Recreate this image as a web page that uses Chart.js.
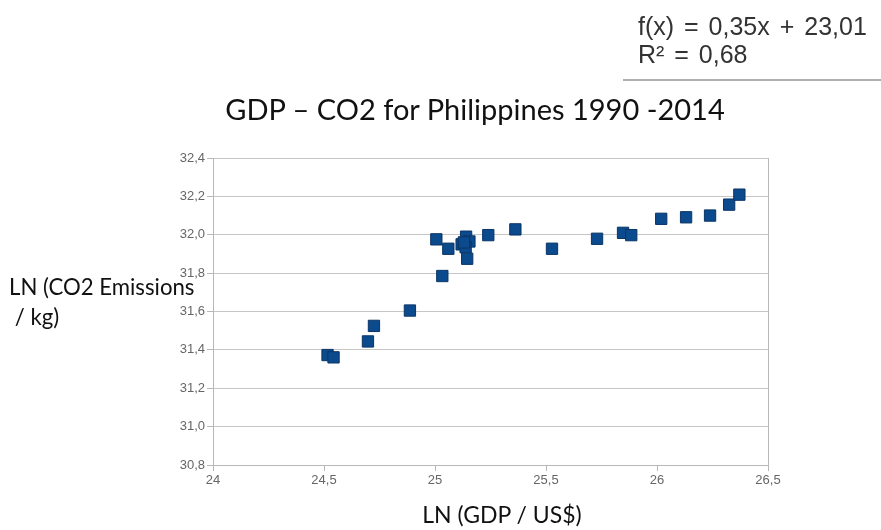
<!DOCTYPE html>
<html>
<head>
<meta charset="utf-8">
<script src="https://cdn.jsdelivr.net/npm/chart.js@4/dist/chart.umd.min.js"></script>
<style>
  html, body { margin:0; padding:0; background:#fff; }
  #wrap { position:relative; width:881px; height:530px; overflow:hidden; }
  #c { position:absolute; left:0; top:0; }
  .t { position:absolute; white-space:pre; }
  #title { left:0; width:950px; top:92px; text-align:center; font-family:Lato, sans-serif; font-size:29px; line-height:34px; color:#111; }
  #ytitle { left:9px; top:272px; font-family:Lato, sans-serif; font-size:22.2px; line-height:30px; color:#111; }
  #xtitle { left:0; width:1004px; top:500px; text-align:center; font-family:Lato, sans-serif; font-size:23px; line-height:28px; color:#111; }
  #formula { left:638px; top:12px; font-family:"Liberation Sans", Arial, sans-serif; font-size:25px; line-height:28px; color:#333; word-spacing:3px; }
  #rule { position:absolute; left:623px; top:79px; width:258px; height:2px; background:#b0b0b0; }
</style>
</head>
<body>
<div id="wrap">
  <canvas id="c" width="881" height="530"></canvas>
  <div class="t" id="formula">f(x) = 0,35x + 23,01
R² = 0,68</div>
  <div id="rule"></div>
  <div class="t" id="title">GDP – CO2 for Philippines 1990 -2014</div>
  <div class="t" id="ytitle">LN (CO2 Emissions
 / kg)</div>
  <div class="t" id="xtitle">LN (GDP / US$)</div>
</div>
<script>
// LN(GDP / US$) for each year
const lnGDP = [24.516, 24.543, 24.698, 24.725, 24.887, 25.006, 25.033, 25.060,
               25.120, 25.140, 25.155, 25.138, 25.130, 25.145, 25.240, 25.362,
               25.527, 25.730, 25.847, 25.884, 26.019, 26.131, 26.239, 26.325, 26.371];
// LN(CO2 emissions / kg)
const lnCO2 = [31.373, 31.361, 31.444, 31.525, 31.605, 31.976, 31.785, 31.927,
               31.950, 31.990, 31.965, 31.935, 31.960, 31.875, 31.998, 32.028,
               31.927, 31.979, 32.010, 31.998, 32.083, 32.091, 32.100, 32.157, 32.209];
const xTicks = ['24', '24,5', '25', '25,5', '26', '26,5'];
const yTicks = ['30,8', '31,0', '31,2', '31,4', '31,6', '31,8', '32,0', '32,2', '32,4'];
const xMin = 24, xMax = 26.5, xStep = 0.5;
const yMin = 30.8, yMax = 32.4, yStep = 0.2;

const points = lnGDP.map((x, i) => ({ x: x, y: lnCO2[i] }));
const GRID = '#c6c6c6';
const AXIS = '#b8b8b8';
const tickFont = { family: '"Liberation Sans", Arial, sans-serif', size: 13 };

new Chart(document.getElementById('c'), {
  type: 'scatter',
  data: {
    datasets: [{
      data: points,
      pointStyle: 'rect',
      pointRadius: 8,
      pointHoverRadius: 8,
      backgroundColor: '#0b4a8c',
      borderColor: '#0a3566',
      borderWidth: 1
    }]
  },
  options: {
    responsive: false,
    animation: false,
    events: [],
    layout: { padding: { top: 158, right: 113, left: 0, bottom: 0 } },
    plugins: { legend: { display: false }, tooltip: { enabled: false }, title: { display: false } },
    scales: {
      x: {
        type: 'linear',
        min: xMin, max: xMax,
        ticks: {
          stepSize: xStep,
          color: '#666',
          font: tickFont,
          padding: 2,
          maxRotation: 0,
          callback: (v) => xTicks[Math.round((v - xMin) / xStep)]
        },
        grid: {
          drawOnChartArea: true,
          color: (ctx) => (ctx.tick && Math.abs(ctx.tick.value - xMax) < 1e-9) ? AXIS : 'rgba(0,0,0,0)',
          tickColor: AXIS,
          tickLength: 6
        },
        border: { color: AXIS },
        afterFit: (s) => { s.height = 65; }
      },
      y: {
        type: 'linear',
        min: yMin, max: yMax,
        ticks: {
          stepSize: yStep,
          color: '#666',
          font: tickFont,
          padding: 2,
          callback: (v) => yTicks[Math.round((v - yMin) / yStep)]
        },
        grid: { color: GRID, tickColor: AXIS, tickLength: 6 },
        border: { color: AXIS },
        afterFit: (s) => { s.width = 213; }
      }
    }
  }
});
</script>
</body>
</html>
